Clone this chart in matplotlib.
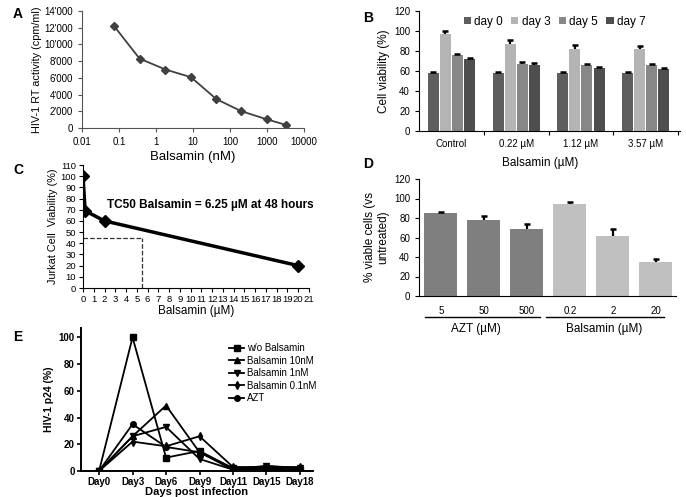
import numpy as np
import matplotlib.pyplot as plt

plt.rcParams['font.family'] = ['Liberation Sans', 'DejaVu Sans']

# ---- panel A data
a_conc = [0.075, 0.36, 1.8, 8.8, 43, 200, 1000, 3300]
a_rt = [12150, 8300, 7000, 6080, 3450, 2020, 1030, 360]
a_yticks = [0, 2000, 4000, 6000, 8000, 10000, 12000, 14000]
a_ylabels = ["0", "2'000", "4'000", "6'000", "8'000", "10'000", "12'000", "14'000"]
a_xticks = [0.01, 0.1, 1, 10, 100, 1000, 10000]
a_xlabels = ["0.01", "0.1", "1", "10", "100", "1000", "10000"]

# ---- panel B data
b_groups = ["Control", "0.22 µM", "1.12 µM", "3.57 µM"]
b_days = ["day 0", "day 3", "day 5", "day 7"]
b_vals = [[58.5, 58.5, 58.5, 58.5],
          [97.5, 87.5, 82.5, 82],
          [76, 67.5, 66.5, 66],
          [72, 66.5, 63, 62]]
b_err = [[0.8, 0.8, 0.8, 0.8],
         [3, 3.5, 3.5, 3],
         [1.5, 2, 1, 1.5],
         [1.5, 2, 1.5, 1.5]]
b_colors = ["#5e5e5e", "#b4b4b4", "#878787", "#4e4e4e"]

# ---- panel C data
c_conc = [0, 0.2, 2, 20]
c_viab = [100, 69, 60, 20]
tc50_x = 5.5
tc50_y = 44.5

# ---- panel D data
d_labels = ["5", "50", "500", "0.2", "2", "20"]
d_vals = [85, 78, 68.5, 94, 62, 35]
d_err = [1, 4, 5, 2.5, 7, 2.5]
d_colors = ["#7f7f7f"] * 3 + ["#c0c0c0"] * 3

# ---- panel E data
e_days = ["Day0", "Day3", "Day6", "Day9", "Day11", "Day15", "Day18"]
e_series = {
    "w/o Balsamin": [0, 100, 10, 15, 2, 1, 1],
    "Balsamin 10nM": [0, 26, 49, 14, 2, 3, 2],
    "Balsamin 1nM": [0, 26, 33, 9, 1, 4, 2],
    "Balsamin 0.1nM": [0, 22, 18.5, 26, 3, 3, 3],
    "AZT": [0, 35, 18, 14, 1, 2, 1],
}
e_markers = ["s", "^", "v", "d", "o"]

fig = plt.figure(figsize=(6.86, 4.97), dpi=100)
W, H = 686.0, 497.0


def box(x0, y0, x1, y1):
    return [x0 / W, 1 - y1 / H, (x1 - x0) / W, (y1 - y0) / H]


def clean(ax):
    ax.spines['top'].set_visible(False)
    ax.spines['right'].set_visible(False)


def upper_err(ax, x, y, e):
    # only the upper half of the error bar, like the reference
    n = len(y)
    _, caps, _ = ax.errorbar(x, y, yerr=[np.zeros(n), e], fmt='none', ecolor='black',
                             elinewidth=1.6, capsize=2.2, capthick=1.8)
    caps[0].set_visible(False)


# ================= A
axA = fig.add_axes(box(82, 11, 304, 128))
clean(axA)
axA.plot(a_conc, a_rt, color="#404040", lw=1.3, marker="D", ms=4)
axA.set_xscale('log')
axA.set_xlim(0.01, 10000)
axA.set_ylim(0, 14000)
axA.set_xticks(a_xticks)
axA.set_xticklabels(a_xlabels, fontsize=7)
axA.minorticks_off()
axA.set_yticks(a_yticks)
axA.set_yticklabels(a_ylabels, fontsize=7)
axA.tick_params(length=3, color="#555555")
for s in ['left', 'bottom']:
    axA.spines[s].set_color("#555555")
axA.set_xlabel("Balsamin (nM)", fontsize=9.5, labelpad=3)
axA.set_ylabel("HIV-1 RT activity (cpm/ml)", fontsize=7.8, labelpad=2)
fig.text(13 / W, 1 - 14 / H, "A", fontsize=10, fontweight='bold', va='center')

# ================= B
axB = fig.add_axes(box(419, 11, 680, 131))
clean(axB)
xb = np.arange(len(b_groups))
offs = [-0.28, -0.093, 0.093, 0.28]
for i, d in enumerate(b_days):
    axB.bar(xb + offs[i], b_vals[i], width=0.17, color=b_colors[i], label=d)
    upper_err(axB, xb + offs[i], b_vals[i], b_err[i])
axB.set_xlim(-0.5, 3.53)
axB.set_ylim(0, 120)
axB.set_yticks(range(0, 121, 20))
axB.tick_params(axis='y', labelsize=7, length=3)
axB.set_xticks([0.5, 1.5, 2.5, 3.5], minor=False)
axB.set_xticklabels([])
axB.tick_params(axis='x', length=3)
axB.set_xticks(xb, minor=True)
axB.set_xticklabels(b_groups, minor=True, fontsize=7)
axB.tick_params(axis='x', which='minor', length=0, pad=6)
axB.set_ylabel("Cell viability (%)", fontsize=8.5, labelpad=3)
axB.legend(loc='upper center', bbox_to_anchor=(0.52, 1.05), ncol=4, frameon=False,
           fontsize=8.5, handlelength=0.6, handleheight=0.6, handletextpad=0.3,
           columnspacing=0.7)
fig.text(540 / W, 1 - 163 / H, "Balsamin (µM)", fontsize=8.5, ha='center', va='center')
fig.text(363 / W, 1 - 18 / H, "B", fontsize=10, fontweight='bold', va='center')

# ================= C
axC = fig.add_axes(box(83, 165, 309, 288))
clean(axC)
axC.plot(c_conc, c_viab, color='black', lw=2.5, marker='D', ms=6.5)
axC.plot([0, tc50_x], [tc50_y, tc50_y], color='#333333', lw=0.9, ls='--')
axC.plot([tc50_x, tc50_x], [0, tc50_y], color='#333333', lw=0.9, ls='--')
axC.set_xlim(0, 21)
axC.set_ylim(0, 110)
axC.set_xticks(range(0, 22))
axC.set_yticks(range(0, 111, 10))
axC.tick_params(labelsize=6.8, length=3, pad=2)
axC.text(2.2, 74, "TC50 Balsamin = 6.25 µM at 48 hours", fontsize=8.5,
         fontweight='bold', va='center')
axC.set_xlabel("Balsamin (µM)", fontsize=8.5, labelpad=1)
axC.set_ylabel("Jurkat Cell  Viability (%)", fontsize=7.8, labelpad=2)
fig.text(13 / W, 1 - 170 / H, "C", fontsize=10, fontweight='bold', va='center')

# ================= D
axD = fig.add_axes(box(419, 179, 676, 296))
clean(axD)
xd = np.arange(len(d_labels))
axD.bar(xd, d_vals, width=0.77, color=d_colors)
upper_err(axD, xd, d_vals, d_err)
axD.set_xlim(-0.51, 5.47)
axD.set_ylim(0, 120)
axD.set_yticks(range(0, 121, 20))
axD.set_xticks(xd)
axD.set_xticklabels(d_labels, fontsize=7)
axD.tick_params(axis='x', length=0, pad=7)
axD.tick_params(axis='y', labelsize=7, length=3)
axD.set_ylabel("% viable cells (vs\nuntreated)", fontsize=8.5, labelpad=3)
tr = axD.get_xaxis_transform()
axD.plot([-0.37, 2.3], [-0.18, -0.18], transform=tr, color='black', lw=1, clip_on=False)
axD.plot([2.44, 5.19], [-0.18, -0.18], transform=tr, color='black', lw=1, clip_on=False)
axD.text(0.82, -0.28, "AZT (µM)", transform=tr, fontsize=8.5, ha='center', va='center')
axD.text(3.8, -0.28, "Balsamin (µM)", transform=tr, fontsize=8.5, ha='center', va='center')
fig.text(363 / W, 1 - 164 / H, "D", fontsize=10, fontweight='bold', va='center')

# ================= E
axE = fig.add_axes(box(81, 328, 313, 471))
clean(axE)
xe = np.arange(len(e_days))
for (name, vals), m in zip(e_series.items(), e_markers):
    axE.plot(xe, vals, color='black', lw=1.3, marker=m, ms=4, label=name)
axE.set_xlim(-0.54, 6.39)
axE.set_ylim(0, 107)
axE.set_yticks(range(0, 101, 20))
axE.set_xticks(xe)
axE.set_xticklabels(e_days, fontsize=7, fontweight='bold')
for lab in axE.get_yticklabels():
    lab.set_fontweight('bold')
axE.tick_params(labelsize=7, length=3, width=1.2, pad=1.5)
for s in ['left', 'bottom']:
    axE.spines[s].set_linewidth(1.4)
axE.set_xlabel("Days post infection", fontsize=8, fontweight='bold', labelpad=0)
axE.set_ylabel("HIV-1 p24 (%)", fontsize=7.5, fontweight='bold', labelpad=3)
axE.legend(loc='upper left', bbox_to_anchor=(0.62, 0.92), frameon=False, fontsize=7,
           handlelength=1.6, handletextpad=0.3, labelspacing=0.25, borderaxespad=0)
fig.text(13 / W, 1 - 337 / H, "E", fontsize=10, fontweight='bold', va='center')

fig.savefig("out.png", dpi=100)
